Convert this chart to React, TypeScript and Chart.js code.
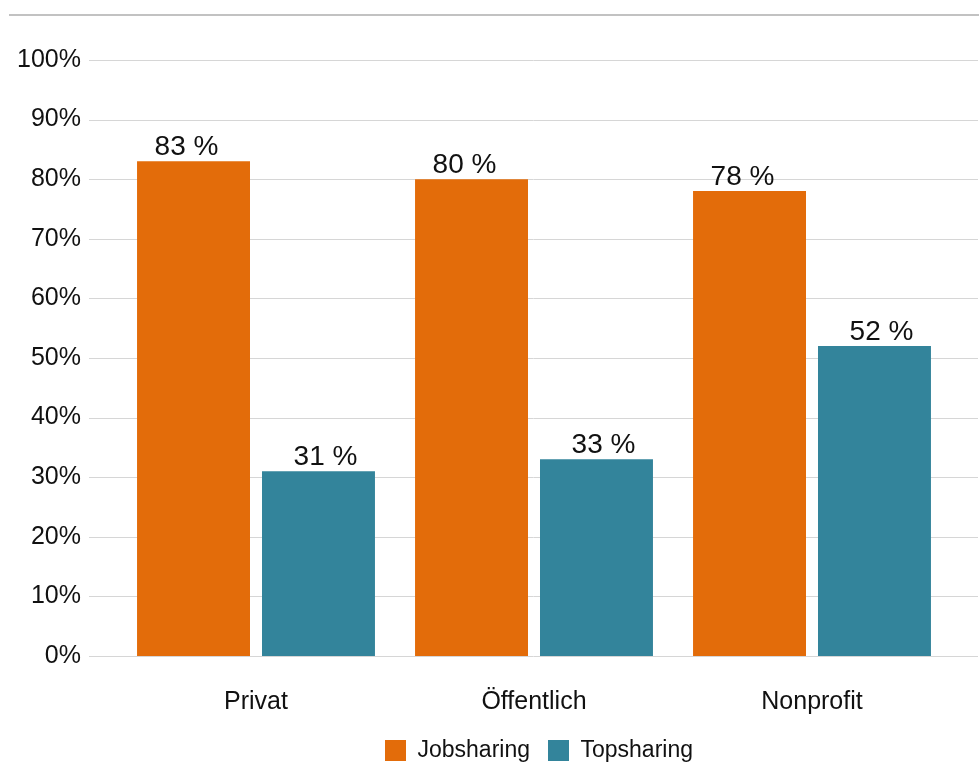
import React, { useEffect, useRef } from "react";
import { Chart, registerables } from "chart.js";

Chart.register(...registerables);

const categories = ["Privat", "Öffentlich", "Nonprofit"];
const seriesNames = ["Jobsharing", "Topsharing"];
const jobsharing = [83, 80, 78];
const topsharing = [31, 33, 52];
const yMin = 0;
const yMax = 100;
const yStep = 10;

const ORANGE = "#e36c0a";
const TEAL = "#33849b";
const TEXT = "#111111";
const FONT = '"Liberation Sans", Arial, Helvetica, sans-serif';

export default function App() {
  const ref = useRef<HTMLCanvasElement | null>(null);

  useEffect(() => {
    const canvas = ref.current;
    if (!canvas) return;

    const gridPlugin = {
      id: "extendedGrid",
      beforeDatasetsDraw(chart: any) {
        const { ctx, chartArea } = chart;
        const y = chart.scales.y;
        ctx.save();
        ctx.strokeStyle = "#d6d6d6";
        ctx.lineWidth = 1;
        y.ticks.forEach((t: any) => {
          const py = Math.round(y.getPixelForValue(t.value)) + 0.5;
          ctx.beginPath();
          ctx.moveTo(chartArea.left - 28, py);
          ctx.lineTo(chartArea.right + 27, py);
          ctx.stroke();
        });
        ctx.restore();
      },
    };

    const legendShiftPlugin = {
      id: "legendShift",
      afterLayout(chart: any) {
        const lg = chart.legend;
        if (lg) {
          lg.left += 5;
          lg.right += 5;
        }
      },
    };

    const valueLabelPlugin = {
      id: "valueLabels",
      afterDatasetsDraw(chart: any) {
        const { ctx } = chart;
        const xs = chart.scales.x;
        const catW = xs.getPixelForValue(1) - xs.getPixelForValue(0);
        const n = chart.data.datasets.length;
        ctx.save();
        ctx.font = `28px ${FONT}`;
        ctx.fillStyle = TEXT;
        ctx.textAlign = "center";
        ctx.textBaseline = "alphabetic";
        chart.data.datasets.forEach((ds: any, i: number) => {
          const meta = chart.getDatasetMeta(i);
          meta.data.forEach((bar: any, j: number) => {
            const cx = xs.getPixelForValue(j) + ((i - (n - 1) / 2) * catW) / n;
            ctx.fillText(`${ds.data[j]} %`, cx, bar.y - 6);
          });
        });
        ctx.restore();
      },
    };

    const chart = new Chart(canvas, {
      type: "bar",
      data: {
        labels: categories,
        datasets: [
          {
            label: seriesNames[0],
            data: jobsharing,
            backgroundColor: ORANGE,
            borderWidth: 0,
            categoryPercentage: 0.899,
            barPercentage: 0.904,
          },
          {
            label: seriesNames[1],
            data: topsharing,
            backgroundColor: TEAL,
            borderWidth: 0,
            categoryPercentage: 0.899,
            barPercentage: 0.904,
          },
        ],
      },
      options: {
        responsive: false,
        animation: false,
        devicePixelRatio: 1,
        layout: { padding: { left: 0, right: 28, top: 60, bottom: 0 } },
        plugins: {
          tooltip: { enabled: false },
          legend: {
            position: "bottom",
            fullSize: false,
            labels: {
              boxWidth: 21,
              boxHeight: 21,
              padding: 18,
              color: TEXT,
              font: { family: FONT, size: 23 },
            },
          },
        },
        scales: {
          x: {
            grid: { display: false, drawTicks: false },
            border: { display: false },
            ticks: {
              color: TEXT,
              font: { family: FONT, size: 25 },
              padding: 31,
            },
            afterFit(scale: any) {
              scale.height = 65;
            },
          },
          y: {
            min: yMin,
            max: yMax,
            grid: { display: false, drawTicks: false },
            border: { display: false },
            ticks: {
              stepSize: yStep,
              color: TEXT,
              padding: 36,
              font: { family: FONT, size: 25 },
              callback: (v: any) => `${v}%`,
            },
            afterFit(scale: any) {
              scale.width = 117;
            },
          },
        },
      },
      plugins: [gridPlugin, legendShiftPlugin, valueLabelPlugin],
    });

    return () => chart.destroy();
  }, []);

  return (
    <div
      style={{
        position: "fixed",
        left: 0,
        top: 0,
        width: 979,
        height: 762,
        overflow: "hidden",
        background: "#ffffff",
      }}
    >
      <div
        style={{
          position: "absolute",
          left: 9,
          right: 0,
          top: 14,
          height: 2,
          background: "#c2c2c2",
        }}
      />
      <canvas
        ref={ref}
        width={979}
        height={772}
        style={{ position: "absolute", left: 0, top: 0, width: 979, height: 772 }}
      />
    </div>
  );
}
